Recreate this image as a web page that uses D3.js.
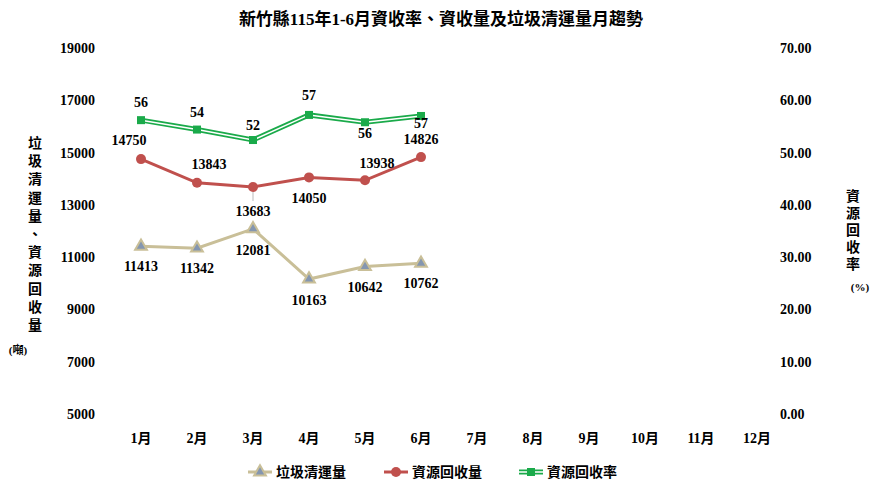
<!DOCTYPE html><html><head><meta charset="utf-8"><script src="https://cdn.jsdelivr.net/npm/d3@7"></script>
<style>body{margin:0;background:#fff}text{font-family:"Times New Roman","Liberation Serif","Noto Sans CJK TC",serif;font-weight:bold}</style></head><body>
<svg id="c" width="882" height="491"></svg>
<script>
const months=["1月","2月","3月","4月","5月","6月","7月","8月","9月","10月","11月","12月"];
const garbage=[11413,11342,12081,10163,10642,10762];
const recycle=[14750,13843,13683,14050,13938,14826];
const rate=[56.2,54.4,52.4,57.2,55.8,57.0];
const leftTicks=[5000,7000,9000,11000,13000,15000,17000,19000];
const rightTicks=[0,10,20,30,40,50,60,70];
const svg=d3.select("#c");
const x=d3.scalePoint().domain(months).range([141,757]);
const yL=d3.scaleLinear().domain([5000,19000]).range([414,48]);
const yR=d3.scaleLinear().domain([0,70]).range([414,48]);
svg.append("text").attr("x",441).attr("y",25).attr("text-anchor","middle").attr("font-size",17).text("新竹縣115年1-6月資收率、資收量及垃圾清運量月趨勢");
svg.selectAll(".lt").data(leftTicks).join("text").attr("x",95).attr("y",d=>yL(d)+5).attr("text-anchor","end").attr("font-size",14).text(d=>d);
svg.selectAll(".rt").data(rightTicks).join("text").attr("x",780).attr("y",d=>yR(d)+5).attr("font-size",14).text(d=>d.toFixed(2));
svg.selectAll(".mt").data(months).join("text").attr("x",d=>x(d)).attr("y",443).attr("text-anchor","middle").attr("font-size",14).text(d=>d);
const lt="垃圾清運量、資源回收量".split("");
lt.forEach((c,i)=>svg.append("text").attr("x",35).attr("y",148+i*18.2).attr("text-anchor","middle").attr("font-size",14).text(c));
svg.append("text").attr("x",18).attr("y",354).attr("text-anchor","middle").attr("font-size",11).attr("font-weight","normal").text("(噸)");
"資源回收率".split("").forEach((c,i)=>svg.append("text").attr("x",853).attr("y",201+i*17).attr("text-anchor","middle").attr("font-size",14).text(c));
svg.append("text").attr("x",860).attr("y",291).attr("text-anchor","middle").attr("font-size",11).attr("font-weight","normal").text("(%)");
const m6=months.slice(0,6);
const line=(arr,sc)=>d3.line().x((d,i)=>x(m6[i])).y(d=>sc(d))(arr);
svg.append("path").attr("d",line(rate,yR)).attr("fill","none").attr("stroke","#1aaa4a").attr("stroke-width",5);
svg.append("path").attr("d",line(rate,yR)).attr("fill","none").attr("stroke","#fff").attr("stroke-width",1.5);
svg.selectAll(".gs").data(rate).join("rect").attr("x",(d,i)=>x(m6[i])-4).attr("y",d=>yR(d)-4).attr("width",8).attr("height",8).attr("fill","#1aaa4a");
svg.append("path").attr("d",line(recycle,yL)).attr("fill","none").attr("stroke","#c0504d").attr("stroke-width",3);
svg.selectAll(".rc").data(recycle).join("circle").attr("cx",(d,i)=>x(m6[i])).attr("cy",d=>yL(d)).attr("r",5).attr("fill","#c0504d");
svg.append("path").attr("d",line(garbage,yL)).attr("fill","none").attr("stroke","#c9bf98").attr("stroke-width",3);
const tri=d3.symbol().type(d3.symbolTriangle).size(60);
svg.selectAll(".gt").data(garbage).join("path").attr("d",tri).attr("transform",(d,i)=>`translate(${x(m6[i])},${yL(d)})`).attr("fill","#8496b0").attr("stroke","#c9bf98").attr("stroke-width",2);
svg.selectAll(".rl").data(rate).join("text").attr("x",(d,i)=>x(m6[i])).attr("y",(d,i)=>yR(d)-[13,13,10,15,-16,-12][i]).attr("text-anchor","middle").attr("font-size",14).text(d=>Math.round(d));
// leader line for 13683
svg.append("line").attr("x1",x("3月")).attr("x2",x("3月")).attr("y1",yL(13683)+5).attr("y2",yL(13683)+14).attr("stroke","#bbb");
const rOff=[[-12,-14],[12,-14],[0,29],[0,26],[12,-12],[0,-13]];
svg.selectAll(".cl").data(recycle).join("text").attr("x",(d,i)=>x(m6[i])+rOff[i][0]).attr("y",(d,i)=>yL(d)+rOff[i][1]).attr("text-anchor","middle").attr("font-size",14).text(d=>d);
const gOff=[25,25,26,26,25,25];
svg.selectAll(".gl").data(garbage).join("text").attr("x",(d,i)=>x(m6[i])).attr("y",(d,i)=>yL(d)+gOff[i]).attr("text-anchor","middle").attr("font-size",14).text(d=>d);
const lg=svg.append("g");
lg.append("line").attr("x1",248).attr("x2",272).attr("y1",472).attr("y2",472).attr("stroke","#c9bf98").attr("stroke-width",3);
lg.append("path").attr("d",tri).attr("transform","translate(260,472)").attr("fill","#8496b0").attr("stroke","#c9bf98").attr("stroke-width",2);
lg.append("text").attr("x",276).attr("y",477).attr("font-size",14).text("垃圾清運量");
lg.append("line").attr("x1",384).attr("x2",408).attr("y1",472).attr("y2",472).attr("stroke","#c0504d").attr("stroke-width",3);
lg.append("circle").attr("cx",396).attr("cy",472).attr("r",5).attr("fill","#c0504d");
lg.append("text").attr("x",412).attr("y",477).attr("font-size",14).text("資源回收量");
lg.append("line").attr("x1",519).attr("x2",543).attr("y1",472).attr("y2",472).attr("stroke","#1aaa4a").attr("stroke-width",5);
lg.append("line").attr("x1",519).attr("x2",543).attr("y1",472).attr("y2",472).attr("stroke","#fff").attr("stroke-width",1.5);
lg.append("rect").attr("x",527).attr("y",468).attr("width",8).attr("height",8).attr("fill","#1aaa4a");
lg.append("text").attr("x",547).attr("y",477).attr("font-size",14).text("資源回收率");
</script></body></html>
